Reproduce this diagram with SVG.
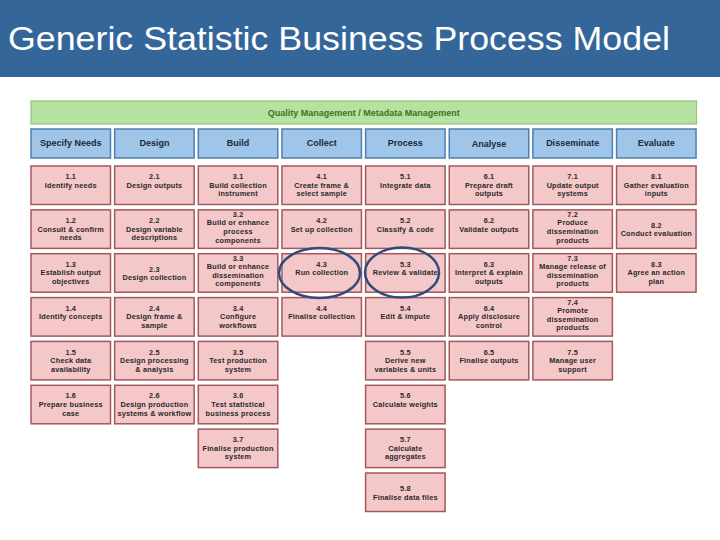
<svg xmlns="http://www.w3.org/2000/svg" width="720" height="540" viewBox="0 0 720 540">
<style>
.bg{fill:#ffffff}
.hdr{fill:#356699}
.title{font-family:"Liberation Sans",Arial,sans-serif;font-size:34px;fill:#ffffff}
.qm rect{fill:#b6e2a1;stroke:#93c47d;stroke-width:1.2}
.qm text{font-family:"Liberation Sans",Arial,sans-serif;font-size:9px;font-weight:bold;fill:#38761d;text-anchor:middle}
.ph rect{fill:#9fc5e8;stroke:#4f7fae;stroke-width:1.5}
.ph text{font-family:"Liberation Sans",Arial,sans-serif;font-size:9px;font-weight:bold;fill:#1c2838;text-anchor:middle}
.n rect{fill:#f4c7c9;stroke:#a5585b;stroke-width:1.5}
.n text{font-family:"Liberation Sans",Arial,sans-serif;font-size:7.3px;font-weight:bold;fill:#2a2a2a;text-anchor:middle;letter-spacing:0.2px}
.hl{fill:none;stroke:#2f4c7e;stroke-width:2.5}
</style>
<rect class="bg" x="0" y="0" width="720" height="540"/>
<g id="header">
<rect class="hdr" x="0" y="0" width="720" height="77"/>
<text class="title" x="8" y="50" textLength="662" lengthAdjust="spacingAndGlyphs">Generic Statistic Business Process Model</text>
</g>
<g id="quality" class="qm">
<rect x="31" y="101" width="665.5" height="23"/>
<text x="363.7" y="115.5">Quality Management / Metadata Management</text>
</g>
<g id="phases">
<g id="ph1" class="ph"><rect x="31" y="129" width="79.5" height="29"/><text x="70.75" y="146">Specify Needs</text></g>
<g id="ph2" class="ph"><rect x="114.65" y="129" width="79.5" height="29"/><text x="154.4" y="146">Design</text></g>
<g id="ph3" class="ph"><rect x="198.3" y="129" width="79.5" height="29"/><text x="238.05" y="146">Build</text></g>
<g id="ph4" class="ph"><rect x="281.95" y="129" width="79.5" height="29"/><text x="321.7" y="146">Collect</text></g>
<g id="ph5" class="ph"><rect x="365.6" y="129" width="79.5" height="29"/><text x="405.35" y="146">Process</text></g>
<g id="ph6" class="ph"><rect x="449.25" y="129" width="79.5" height="29"/><text x="489" y="147">Analyse</text></g>
<g id="ph7" class="ph"><rect x="532.9" y="129" width="79.5" height="29"/><text x="572.65" y="146">Disseminate</text></g>
<g id="ph8" class="ph"><rect x="616.55" y="129" width="79.5" height="29"/><text x="656.3" y="146">Evaluate</text></g>
</g>
<g id="nodes">
<!-- column 1 -->
<g id="n1-1" class="n"><rect x="31" y="166" width="79.5" height="38.5"/><text y="179.1"><tspan x="70.75">1.1</tspan><tspan x="70.75" dy="8.6">Identify needs</tspan></text></g>
<g id="n1-2" class="n"><rect x="31" y="209.9" width="79.5" height="38.5"/><text y="223"><tspan x="70.75">1.2</tspan><tspan x="70.75" dy="8.6">Consult &amp; confirm</tspan><tspan x="70.75" dy="8.6">needs</tspan></text></g>
<g id="n1-3" class="n"><rect x="31" y="253.7" width="79.5" height="38.5"/><text y="266.8"><tspan x="70.75">1.3</tspan><tspan x="70.75" dy="8.6">Establish output</tspan><tspan x="70.75" dy="8.6">objectives</tspan></text></g>
<g id="n1-4" class="n"><rect x="31" y="297.6" width="79.5" height="38.5"/><text y="310.7"><tspan x="70.75">1.4</tspan><tspan x="70.75" dy="8.6">Identify concepts</tspan></text></g>
<g id="n1-5" class="n"><rect x="31" y="341.4" width="79.5" height="38.5"/><text y="354.5"><tspan x="70.75">1.5</tspan><tspan x="70.75" dy="8.6">Check data</tspan><tspan x="70.75" dy="8.6">availability</tspan></text></g>
<g id="n1-6" class="n"><rect x="31" y="385.3" width="79.5" height="38.5"/><text y="398.4"><tspan x="70.75">1.6</tspan><tspan x="70.75" dy="8.6">Prepare business</tspan><tspan x="70.75" dy="8.6">case</tspan></text></g>
<!-- column 2 -->
<g id="n2-1" class="n"><rect x="114.65" y="166" width="79.5" height="38.5"/><text y="179.1"><tspan x="154.4">2.1</tspan><tspan x="154.4" dy="8.6">Design outputs</tspan></text></g>
<g id="n2-2" class="n"><rect x="114.65" y="209.9" width="79.5" height="38.5"/><text y="223"><tspan x="154.4">2.2</tspan><tspan x="154.4" dy="8.6">Design variable</tspan><tspan x="154.4" dy="8.6">descriptions</tspan></text></g>
<g id="n2-3" class="n"><rect x="114.65" y="253.7" width="79.5" height="38.5"/><text y="271.6"><tspan x="154.4">2.3</tspan><tspan x="154.4" dy="8.6">Design collection</tspan></text></g>
<g id="n2-4" class="n"><rect x="114.65" y="297.6" width="79.5" height="38.5"/><text y="310.7"><tspan x="154.4">2.4</tspan><tspan x="154.4" dy="8.6">Design frame &amp;</tspan><tspan x="154.4" dy="8.6">sample</tspan></text></g>
<g id="n2-5" class="n"><rect x="114.65" y="341.4" width="79.5" height="38.5"/><text y="354.5"><tspan x="154.4">2.5</tspan><tspan x="154.4" dy="8.6">Design processing</tspan><tspan x="154.4" dy="8.6">&amp; analysis</tspan></text></g>
<g id="n2-6" class="n"><rect x="114.65" y="385.3" width="79.5" height="38.5"/><text y="398.4"><tspan x="154.4">2.6</tspan><tspan x="154.4" dy="8.6">Design production</tspan><tspan x="154.4" dy="8.6">systems &amp; workflow</tspan></text></g>
<!-- column 3 -->
<g id="n3-1" class="n"><rect x="198.3" y="166" width="79.5" height="38.5"/><text y="179.1"><tspan x="238.05">3.1</tspan><tspan x="238.05" dy="8.6">Build collection</tspan><tspan x="238.05" dy="8.6">instrument</tspan></text></g>
<g id="n3-2" class="n"><rect x="198.3" y="209.9" width="79.5" height="38.5"/><text y="216.8"><tspan x="238.05">3.2</tspan><tspan x="238.05" dy="8.6">Build or enhance</tspan><tspan x="238.05" dy="8.6">process</tspan><tspan x="238.05" dy="8.6">components</tspan></text></g>
<g id="n3-3" class="n"><rect x="198.3" y="253.7" width="79.5" height="38.5"/><text y="260.6"><tspan x="238.05">3.3</tspan><tspan x="238.05" dy="8.6">Build or enhance</tspan><tspan x="238.05" dy="8.6">dissemination</tspan><tspan x="238.05" dy="8.6">components</tspan></text></g>
<g id="n3-4" class="n"><rect x="198.3" y="297.6" width="79.5" height="38.5"/><text y="310.7"><tspan x="238.05">3.4</tspan><tspan x="238.05" dy="8.6">Configure</tspan><tspan x="238.05" dy="8.6">workflows</tspan></text></g>
<g id="n3-5" class="n"><rect x="198.3" y="341.4" width="79.5" height="38.5"/><text y="354.5"><tspan x="238.05">3.5</tspan><tspan x="238.05" dy="8.6">Test production</tspan><tspan x="238.05" dy="8.6">system</tspan></text></g>
<g id="n3-6" class="n"><rect x="198.3" y="385.3" width="79.5" height="38.5"/><text y="398.4"><tspan x="238.05">3.6</tspan><tspan x="238.05" dy="8.6">Test statistical</tspan><tspan x="238.05" dy="8.6">business process</tspan></text></g>
<g id="n3-7" class="n"><rect x="198.3" y="429.1" width="79.5" height="38.5"/><text y="442.2"><tspan x="238.05">3.7</tspan><tspan x="238.05" dy="8.6">Finalise production</tspan><tspan x="238.05" dy="8.6">system</tspan></text></g>
<!-- column 4 -->
<g id="n4-1" class="n"><rect x="281.95" y="166" width="79.5" height="38.5"/><text y="179.1"><tspan x="321.7">4.1</tspan><tspan x="321.7" dy="8.6">Create frame &amp;</tspan><tspan x="321.7" dy="8.6">select sample</tspan></text></g>
<g id="n4-2" class="n"><rect x="281.95" y="209.9" width="79.5" height="38.5"/><text y="223"><tspan x="321.7">4.2</tspan><tspan x="321.7" dy="8.6">Set up collection</tspan></text></g>
<g id="n4-3" class="n"><rect x="281.95" y="253.7" width="79.5" height="38.5"/><text y="266.8"><tspan x="321.7">4.3</tspan><tspan x="321.7" dy="8.6">Run collection</tspan></text></g>
<g id="n4-4" class="n"><rect x="281.95" y="297.6" width="79.5" height="38.5"/><text y="310.7"><tspan x="321.7">4.4</tspan><tspan x="321.7" dy="8.6">Finalise collection</tspan></text></g>
<!-- column 5 -->
<g id="n5-1" class="n"><rect x="365.6" y="166" width="79.5" height="38.5"/><text y="179.1"><tspan x="405.35">5.1</tspan><tspan x="405.35" dy="8.6">Integrate data</tspan></text></g>
<g id="n5-2" class="n"><rect x="365.6" y="209.9" width="79.5" height="38.5"/><text y="223"><tspan x="405.35">5.2</tspan><tspan x="405.35" dy="8.6">Classify &amp; code</tspan></text></g>
<g id="n5-3" class="n"><rect x="365.6" y="253.7" width="79.5" height="38.5"/><text y="266.8"><tspan x="405.35">5.3</tspan><tspan x="405.35" dy="8.6">Review &amp; validate</tspan></text></g>
<g id="n5-4" class="n"><rect x="365.6" y="297.6" width="79.5" height="38.5"/><text y="310.7"><tspan x="405.35">5.4</tspan><tspan x="405.35" dy="8.6">Edit &amp; impute</tspan></text></g>
<g id="n5-5" class="n"><rect x="365.6" y="341.4" width="79.5" height="38.5"/><text y="354.5"><tspan x="405.35">5.5</tspan><tspan x="405.35" dy="8.6">Derive new</tspan><tspan x="405.35" dy="8.6">variables &amp; units</tspan></text></g>
<g id="n5-6" class="n"><rect x="365.6" y="385.3" width="79.5" height="38.5"/><text y="398.4"><tspan x="405.35">5.6</tspan><tspan x="405.35" dy="8.6">Calculate weights</tspan></text></g>
<g id="n5-7" class="n"><rect x="365.6" y="429.1" width="79.5" height="38.5"/><text y="442.2"><tspan x="405.35">5.7</tspan><tspan x="405.35" dy="8.6">Calculate</tspan><tspan x="405.35" dy="8.6">aggregates</tspan></text></g>
<g id="n5-8" class="n"><rect x="365.6" y="473" width="79.5" height="38.5"/><text y="490.9"><tspan x="405.35">5.8</tspan><tspan x="405.35" dy="8.6">Finalise data files</tspan></text></g>
<!-- column 6 -->
<g id="n6-1" class="n"><rect x="449.25" y="166" width="79.5" height="38.5"/><text y="179.1"><tspan x="489">6.1</tspan><tspan x="489" dy="8.6">Prepare draft</tspan><tspan x="489" dy="8.6">outputs</tspan></text></g>
<g id="n6-2" class="n"><rect x="449.25" y="209.9" width="79.5" height="38.5"/><text y="223"><tspan x="489">6.2</tspan><tspan x="489" dy="8.6">Validate outputs</tspan></text></g>
<g id="n6-3" class="n"><rect x="449.25" y="253.7" width="79.5" height="38.5"/><text y="266.8"><tspan x="489">6.3</tspan><tspan x="489" dy="8.6">Interpret &amp; explain</tspan><tspan x="489" dy="8.6">outputs</tspan></text></g>
<g id="n6-4" class="n"><rect x="449.25" y="297.6" width="79.5" height="38.5"/><text y="310.7"><tspan x="489">6.4</tspan><tspan x="489" dy="8.6">Apply disclosure</tspan><tspan x="489" dy="8.6">control</tspan></text></g>
<g id="n6-5" class="n"><rect x="449.25" y="341.4" width="79.5" height="38.5"/><text y="354.5"><tspan x="489">6.5</tspan><tspan x="489" dy="8.6">Finalise outputs</tspan></text></g>
<!-- column 7 -->
<g id="n7-1" class="n"><rect x="532.9" y="166" width="79.5" height="38.5"/><text y="179.1"><tspan x="572.65">7.1</tspan><tspan x="572.65" dy="8.6">Update output</tspan><tspan x="572.65" dy="8.6">systems</tspan></text></g>
<g id="n7-2" class="n"><rect x="532.9" y="209.9" width="79.5" height="38.5"/><text y="216.8"><tspan x="572.65">7.2</tspan><tspan x="572.65" dy="8.6">Produce</tspan><tspan x="572.65" dy="8.6">dissemination</tspan><tspan x="572.65" dy="8.6">products</tspan></text></g>
<g id="n7-3" class="n"><rect x="532.9" y="253.7" width="79.5" height="38.5"/><text y="260.6"><tspan x="572.65">7.3</tspan><tspan x="572.65" dy="8.6">Manage release of</tspan><tspan x="572.65" dy="8.6">dissemination</tspan><tspan x="572.65" dy="8.6">products</tspan></text></g>
<g id="n7-4" class="n"><rect x="532.9" y="297.6" width="79.5" height="38.5"/><text y="304.5"><tspan x="572.65">7.4</tspan><tspan x="572.65" dy="8.6">Promote</tspan><tspan x="572.65" dy="8.6">dissemination</tspan><tspan x="572.65" dy="8.6">products</tspan></text></g>
<g id="n7-5" class="n"><rect x="532.9" y="341.4" width="79.5" height="38.5"/><text y="354.5"><tspan x="572.65">7.5</tspan><tspan x="572.65" dy="8.6">Manage user</tspan><tspan x="572.65" dy="8.6">support</tspan></text></g>
<!-- column 8 -->
<g id="n8-1" class="n"><rect x="616.55" y="166" width="79.5" height="38.5"/><text y="179.1"><tspan x="656.3">8.1</tspan><tspan x="656.3" dy="8.6">Gather evaluation</tspan><tspan x="656.3" dy="8.6">inputs</tspan></text></g>
<g id="n8-2" class="n"><rect x="616.55" y="209.9" width="79.5" height="38.5"/><text y="227.8"><tspan x="656.3">8.2</tspan><tspan x="656.3" dy="8.6">Conduct evaluation</tspan></text></g>
<g id="n8-3" class="n"><rect x="616.55" y="253.7" width="79.5" height="38.5"/><text y="266.8"><tspan x="656.3">8.3</tspan><tspan x="656.3" dy="8.6">Agree an action</tspan><tspan x="656.3" dy="8.6">plan</tspan></text></g>
</g>
<g id="highlights">
<ellipse class="hl" cx="319.5" cy="273" rx="40.5" ry="25"/>
<ellipse class="hl" cx="402" cy="272.5" rx="37" ry="25"/>
</g>
</svg>
